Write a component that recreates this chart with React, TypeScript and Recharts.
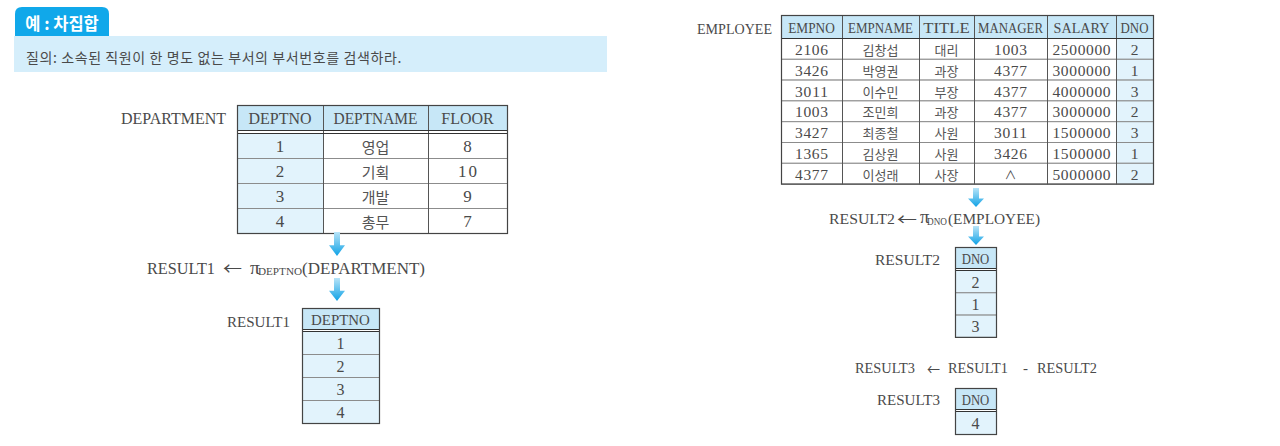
import React from 'react';
import { ScatterChart, Scatter, XAxis, YAxis } from 'recharts';

// table contents
const deptHeaders = ['DEPTNO', 'DEPTNAME', 'FLOOR'];
const deptNos = ['1', '2', '3', '4'];
const deptNames = ['영업', '기획', '개발', '총무'];
const deptFloors = ['8', '10', '9', '7'];

const empHeaders = ['EMPNO', 'EMPNAME', 'TITLE', 'MANAGER', 'SALARY', 'DNO'];
const empNos = ['2106', '3426', '3011', '1003', '3427', '1365', '4377'];
const empNames = ['김창섭', '박영권', '이수민', '조민희', '최종철', '김상원', '이성래'];
const empTitles = ['대리', '과장', '부장', '과장', '사원', '사원', '사장'];
const empManagers = ['1003', '4377', '4377', '4377', '3011', '3426', '∧'];
const empSalaries = ['2500000', '3000000', '4000000', '3000000', '1500000', '1500000', '5000000'];
const empDnos = ['2', '1', '3', '2', '3', '1', '2'];

const result1Dnos = ['1', '2', '3', '4'];
const result2Dnos = ['2', '1', '3'];
const result3Dnos = ['4'];

const W = 1280;
const H = 446;
const SERIF = '"Liberation Serif", "DejaVu Serif", serif';
const KR = '"Noto Sans CJK KR", "Noto Sans", sans-serif';
const HEAD_FILL = '#c7e7f7';
const SHADE_FILL = '#e2f3fc';
const TEXT = '#4a4a4a';

type TableOpts = {
  x0: number;
  y0: number;
  widths: number[];
  headerH: number;
  gap: number;
  rowH: number;
  headers: string[];
  columns: string[][];
  shaded: number[];
  headSize: number;
  headAdv: number;
  bodySize: number;
  bodyAdv: number;
  krSize: number;
};

const makeTable = (o: TableOpts) => {
  const cells: any[] = [];
  const xs: number[] = [o.x0];
  o.widths.forEach((w, i) => xs.push(xs[i] + w));
  o.headers.forEach((h, c) => {
    cells.push({ x: xs[c], y: o.y0, w: o.widths[c], h: o.headerH, text: h, fill: HEAD_FILL, size: o.headSize, adv: o.headAdv });
  });
  const nRows = o.columns[0].length;
  for (let r = 0; r < nRows; r++) {
    o.columns.forEach((col, c) => {
      cells.push({
        x: xs[c],
        y: o.y0 + o.headerH + o.gap + r * o.rowH,
        w: o.widths[c],
        h: o.rowH,
        text: col[r],
        fill: o.shaded.includes(c) ? SHADE_FILL : '#ffffff',
        size: /[가-힣]/.test(col[r]) ? o.krSize : o.bodySize,
        adv: o.bodyAdv,
      });
    });
  }
  const frame = {
    x: o.x0,
    y: o.y0,
    w: xs[xs.length - 1] - o.x0,
    h: o.headerH + o.gap + nRows * o.rowH,
    headerH: o.headerH,
    gap: o.gap,
    xs,
  };
  return { cells, frame };
};

const tables = [
  makeTable({
    x0: 237, y0: 105, widths: [86, 105, 79], headerH: 25, gap: 3, rowH: 25,
    headers: deptHeaders, columns: [deptNos, deptNames, deptFloors], shaded: [0],
    headSize: 16, headAdv: 10.5, bodySize: 17, bodyAdv: 9.5, krSize: 15,
  }),
  makeTable({
    x0: 302, y0: 308, widths: [77], headerH: 21, gap: 2, rowH: 23,
    headers: ['DEPTNO'], columns: [result1Dnos], shaded: [0],
    headSize: 15, headAdv: 9.8, bodySize: 16, bodyAdv: 9, krSize: 14,
  }),
  makeTable({
    x0: 781, y0: 15, widths: [61, 77, 55, 73, 69, 37], headerH: 23, gap: 0, rowH: 20.8,
    headers: empHeaders,
    columns: [empNos, empNames, empTitles, empManagers, empSalaries, empDnos],
    shaded: [5], headSize: 15, headAdv: 9.3, bodySize: 15.5, bodyAdv: 8.3, krSize: 13,
  }),
  makeTable({
    x0: 955, y0: 247, widths: [41], headerH: 21, gap: 2, rowH: 22.3,
    headers: ['DNO'], columns: [result2Dnos], shaded: [0],
    headSize: 15, headAdv: 9.2, bodySize: 16, bodyAdv: 9, krSize: 14,
  }),
  makeTable({
    x0: 955, y0: 388, widths: [41], headerH: 21, gap: 2, rowH: 23,
    headers: ['DNO'], columns: [result3Dnos], shaded: [0],
    headSize: 15, headAdv: 9.2, bodySize: 16, bodyAdv: 9, krSize: 14,
  }),
];

const cellData = tables.flatMap((t) => t.cells);
const frameData = tables.map((t) => t.frame);

// labels: x = left edge, y = vertical centre; each part takes width w, then gap g
const labelData = [
  { x: 121, y: 118, size: 16.5, parts: [{ t: 'DEPARTMENT', w: 105 }] },
  {
    x: 147, y: 268, size: 16.5,
    parts: [
      { t: 'RESULT1', w: 68, g: 8 },
      { t: '←', w: 19, g: 8, arrow: true },
      { t: 'π', w: 8, pi: true },
      { t: 'DEPTNO', w: 44, sub: true },
      { t: '(DEPARTMENT)', w: 123 },
    ],
  },
  { x: 227, y: 321, size: 15.5, parts: [{ t: 'RESULT1', w: 63 }] },
  { x: 697, y: 28, size: 15.5, parts: [{ t: 'EMPLOYEE', w: 75 }] },
  {
    x: 829, y: 218, size: 15.5,
    parts: [
      { t: 'RESULT2', w: 66, g: 2 },
      { t: '←', w: 20, g: 3, arrow: true },
      { t: 'π', w: 7, pi: true },
      { t: 'DNO', w: 20, g: 1, sub: true },
      { t: '(EMPLOYEE)', w: 92 },
    ],
  },
  { x: 875, y: 259, size: 15.5, parts: [{ t: 'RESULT2', w: 65 }] },
  {
    x: 855, y: 368, size: 15,
    parts: [
      { t: 'RESULT3', w: 60, g: 12 },
      { t: '←', w: 13, g: 8, arrow: true },
      { t: 'RESULT1', w: 60, g: 15 },
      { t: '-', w: 5, g: 9 },
      { t: 'RESULT2', w: 60 },
    ],
  },
  { x: 877, y: 399, size: 15.5, parts: [{ t: 'RESULT3', w: 63 }] },
];

// arrows: x = centre, y = top, len = total length
const arrowData = [
  { x: 337, y: 232, len: 24 },
  { x: 337, y: 278, len: 23 },
  { x: 976, y: 188, len: 19 },
  { x: 976, y: 226, len: 19 },
];

const bannerData = [
  { x: 14, y: 7, title: '예 : 차집합', query: '질의: 소속된 직원이 한 명도 없는 부서의 부서번호를 검색하라.' },
];

const fitMode = (t: string) => (/[A-Z←]/.test(t) ? 'spacingAndGlyphs' : 'spacing');

const CellShape = (props: any) => {
  const { cx, cy, payload } = props;
  const kr = /[가-힣]/.test(payload.text);
  const isSym = payload.text === '∧';
  const n = payload.text.length;
  const fit = !kr && !isSym && n > 1;
  return (
    <g>
      <rect x={cx + 0.5} y={cy + 0.5} width={payload.w} height={payload.h} fill={payload.fill} stroke="#8c8c8c" strokeWidth={1} />
      <text
        x={cx + payload.w / 2}
        y={cy + payload.h / 2 + 1}
        textAnchor="middle"
        dominantBaseline="central"
        fontFamily={kr || isSym ? KR : SERIF}
        fontSize={isSym ? 12 : payload.size}
        textLength={fit ? n * payload.adv : undefined}
        lengthAdjust={fitMode(payload.text)}
        fill={kr ? '#555' : TEXT}
      >
        {payload.text}
      </text>
    </g>
  );
};

const FrameShape = (props: any) => {
  const { cx, cy, payload } = props;
  const hb = cy + payload.headerH + 0.5;
  return (
    <g fill="none">
      {payload.xs.slice(1, -1).map((vx: number, i: number) => (
        <line key={i} x1={vx + 0.5} x2={vx + 0.5} y1={cy} y2={cy + payload.h} stroke="#555" strokeWidth={1} />
      ))}
      <line x1={cx} x2={cx + payload.w} y1={hb} y2={hb} stroke="#333" strokeWidth={1} />
      {payload.gap > 0 && (
        <line x1={cx} x2={cx + payload.w} y1={hb + payload.gap} y2={hb + payload.gap} stroke="#333" strokeWidth={1} />
      )}
      <rect x={cx + 0.5} y={cy + 0.5} width={payload.w} height={payload.h} stroke="#444" strokeWidth={1.2} />
    </g>
  );
};

const LabelShape = (props: any) => {
  const { cx, cy, payload } = props;
  let cursor = cx;
  return (
    <g>
      {payload.parts.map((p: any, i: number) => {
        const x = cursor;
        cursor += p.w + (p.g || 0);
        const size = p.sub ? 9.5 : p.pi ? payload.size + 3 : payload.size;
        return (
          <text
            key={i}
            x={x}
            y={cy + (p.sub ? 4 : p.pi ? -1 : 0)}
            dominantBaseline="central"
            fontFamily={p.arrow ? KR : SERIF}
            fontSize={size}
            fill={TEXT}
            textLength={p.t.length > 1 || p.arrow ? p.w : undefined}
            lengthAdjust={fitMode(p.t)}
          >
            {p.t}
          </text>
        );
      })}
    </g>
  );
};

const ArrowShape = (props: any) => {
  const { cx, cy, payload, index } = props;
  const id = `arrowGrad${index}`;
  const headStart = cy + payload.len * 0.55;
  const tip = cy + payload.len;
  return (
    <g>
      <defs>
        <linearGradient id={id} x1="0" y1="0" x2="0" y2="1">
          <stop offset="0%" stopColor="#b8e4f8" />
          <stop offset="100%" stopColor="#0fa2e6" />
        </linearGradient>
      </defs>
      <path
        d={`M${cx - 3},${cy} L${cx + 3},${cy} L${cx + 3},${headStart} L${cx + 8},${headStart} L${cx},${tip} L${cx - 8},${headStart} L${cx - 3},${headStart} Z`}
        fill={`url(#${id})`}
      />
    </g>
  );
};

const BannerShape = (props: any) => {
  const { cx, cy, payload } = props;
  return (
    <g>
      <path d={`M${cx + 1},${cy + 29} L${cx + 1},${cy + 7} Q${cx + 1},${cy} ${cx + 8},${cy} L${cx + 88},${cy} Q${cx + 95},${cy} ${cx + 95},${cy + 7} L${cx + 95},${cy + 29} Z`} fill="#10a8ea" />
      <rect x={cx} y={cy + 29} width={593} height={36} fill="#d5eefb" />
      <text x={cx + 48} y={cy + 16} textAnchor="middle" dominantBaseline="central" fontFamily={KR} fontWeight={700} fontSize={16.5} fill="#ffffff">
        {payload.title}
      </text>
      <text x={cx + 12} y={cy + 50} dominantBaseline="central" fontFamily={KR} fontSize={14} letterSpacing={0.6} fill="#4a4a4a">
        {payload.query}
      </text>
    </g>
  );
};

export default function App() {
  return (
    <div style={{ position: 'absolute', left: 0, top: 0, width: W, height: H, background: '#fff' }}>
      <ScatterChart width={W} height={H} margin={{ top: 0, right: 0, bottom: 0, left: 0 }}>
        <XAxis type="number" dataKey="x" domain={[0, W]} hide allowDataOverflow />
        <YAxis type="number" dataKey="y" domain={[0, H]} reversed hide allowDataOverflow />
        <Scatter data={bannerData} shape={BannerShape} isAnimationActive={false} />
        <Scatter data={cellData} shape={CellShape} isAnimationActive={false} />
        <Scatter data={frameData} shape={FrameShape} isAnimationActive={false} />
        <Scatter data={arrowData} shape={ArrowShape} isAnimationActive={false} />
        <Scatter data={labelData} shape={LabelShape} isAnimationActive={false} />
      </ScatterChart>
    </div>
  );
}
